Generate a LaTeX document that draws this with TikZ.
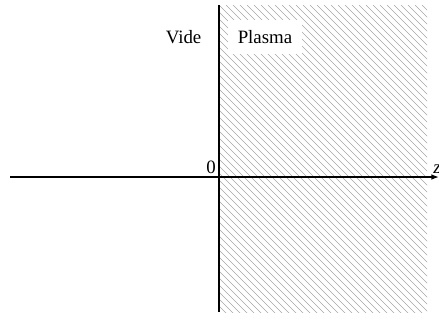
\documentclass[tikz,border=0pt]{standalone}
\usepackage{fontspec}
\setmainfont{Liberation Serif}
\usetikzlibrary{positioning, arrows.meta}

\begin{document}
\begin{tikzpicture}[x=0.53pt, y=-0.53pt, font=\normalsize,
    axe/.style={line width=0.8pt, black},
    hachure/.style={gray!70, line width=0.35pt}]
    \useasboundingbox (0,0) rectangle (439,320);
    % zone hachuree (plasma)
    \begin{scope}
      \clip (219,5) rectangle (427,312);
      \foreach \i in {-329,-322,...,220} {
        \draw[hachure] (219+\i,5) -- ++(340,340);
      }
    \end{scope}
    \node[fill=white, minimum width=39pt, minimum height=17.5pt, inner sep=0pt] (plasma) at (265,37) {Plasma};
    \node[anchor=east] (vide) at (208,37) {Vide};
    \coordinate (haut) at (219,5);
    \coordinate (bas) at (219,312);
    \coordinate (gauche) at (10,177);
    \coordinate (droite) at (439,177);
    \draw[axe] (haut) -- (bas);
    \draw[axe, -{Latex[length=4pt, width=3pt]}] (gauche) -- (droite);
    \node[anchor=south east, inner sep=1.5pt] (zero) at (219,177) {0};
    \node[anchor=south west, inner sep=1pt] (z) at (431,176) {\itshape z};
  \end{tikzpicture}
\end{document}
